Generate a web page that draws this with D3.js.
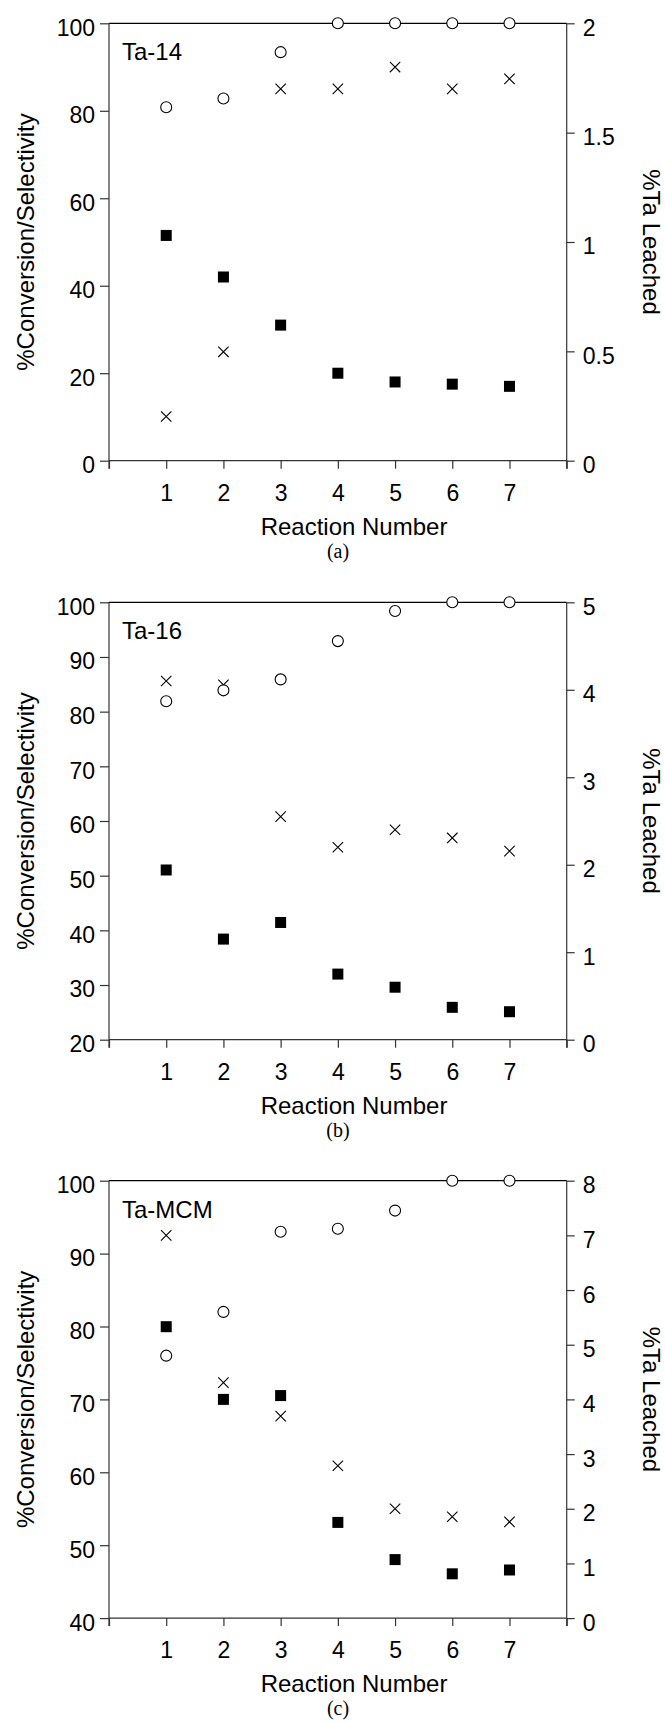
<!DOCTYPE html>
<html>
<head>
<meta charset="utf-8">
<script src="https://cdn.jsdelivr.net/npm/d3@7"></script>
<style>
  html, body { margin: 0; padding: 0; background: #fff; }
  svg { display: block; }
  text { font-family: Arial, "Liberation Sans", Helvetica, sans-serif; fill: #000; }
</style>
</head>
<body>
<svg id="chart"></svg>
<script>
const width = 665, height = 1723;

// x categories
const reactions = [1, 2, 3, 4, 5, 6, 7];
const panelNames = ['Ta-14', 'Ta-16', 'Ta-MCM'];
const captions = ['(a)', '(b)', '(c)'];

// left axis (%Conversion/Selectivity) ranges + ticks
const leftDomains = [[0, 100], [20, 100], [40, 100]];
const leftTicks = [[0, 20, 40, 60, 80, 100], [20, 30, 40, 50, 60, 70, 80, 90, 100], [40, 50, 60, 70, 80, 90, 100]];
// right axis (%Ta Leached)
const rightDomains = [[0, 2], [0, 5], [0, 8]];
const rightTicks = [[0, 0.5, 1, 1.5, 2], [0, 1, 2, 3, 4, 5], [0, 1, 2, 3, 4, 5, 6, 7, 8]];

// open circles, left axis
const circlesA = [80.8, 82.8, 93.4, 100, 100, 100, 100];
const circlesB = [81.9, 83.9, 85.9, 92.9, 98.4, 100, 100];
const circlesC = [76.0, 82.0, 93.0, 93.4, 95.9, 100, 100];
// crosses, left axis
const crossesA = [10.1, 24.9, 85.0, 85.0, 90.0, 85.0, 87.3];
const crossesB = [85.6, 84.9, 60.8, 55.2, 58.4, 56.9, 54.5];
const crossesC = [92.5, 72.3, 67.7, 60.9, 55.0, 53.9, 53.2];
// filled squares, right axis (%Ta leached)
const squaresA = [1.03, 0.84, 0.62, 0.40, 0.36, 0.35, 0.34];
const squaresB = [1.94, 1.15, 1.34, 0.75, 0.60, 0.37, 0.32];
const squaresC = [5.33, 4.00, 4.07, 1.75, 1.07, 0.81, 0.88];

const circles = [circlesA, circlesB, circlesC];
const crosses = [crossesA, crossesB, crossesC];
const squares = [squaresA, squaresB, squaresC];

const panelTops = [23.3, 602.3, 1180.7];
const plotH = 437.4;
const marginLeft = 109, marginRight = 566.7;

const svg = d3.select('#chart')
  .attr('width', width)
  .attr('height', height)
  .attr('viewBox', [0, 0, width, height]);

const x = d3.scaleLinear().domain([0, 8]).range([marginLeft, marginRight]);

panelNames.forEach((name, p) => {
  const top = panelTops[p], bottom = top + plotH;
  const y = d3.scaleLinear().domain(leftDomains[p]).range([bottom, top]);
  const y2 = d3.scaleLinear().domain(rightDomains[p]).range([bottom, top]);
  const g = svg.append('g');

  // frame top line
  g.append('line').attr('x1', marginLeft).attr('x2', marginRight)
    .attr('y1', top).attr('y2', top).attr('stroke', '#000').attr('stroke-width', 1.2);

  // left axis
  const left = g.append('g')
    .attr('transform', `translate(${marginLeft},0)`)
    .call(d3.axisLeft(y).tickValues(leftTicks[p]).tickSize(9).tickPadding(5).tickFormat(d3.format('d')));
  // right axis
  const right = g.append('g')
    .attr('transform', `translate(${marginRight},0)`)
    .call(d3.axisRight(y2).tickValues(rightTicks[p]).tickSize(8).tickPadding(8).tickFormat((d) => String(d)));
  // bottom axis
  const bot = g.append('g')
    .attr('transform', `translate(0,${bottom})`)
    .call(d3.axisBottom(x).tickValues([0, ...reactions, 8]).tickSize(8).tickPadding(16)
      .tickFormat((d) => (d === 0 || d === 8) ? '' : d));

  [left, right, bot].forEach((a) => {
    a.select('.domain').attr('stroke', '#333').attr('stroke-width', 1.2);
    a.selectAll('.tick line').attr('stroke', '#333').attr('stroke-width', 1.2);
    a.selectAll('.tick text').style('font-size', '23px').attr('fill', '#000');
  });
  // cut domain end caps
  left.select('.domain').attr('d', `M0,${bottom + 8}V${top}`);
  right.select('.domain').attr('d', `M0,${bottom + 8}V${top}`);
  bot.select('.domain').attr('d', `M${marginLeft},0H${marginRight}`);
  left.selectAll('.tick text').attr('dy', '0.52em');
  right.selectAll('.tick text').attr('dy', '0.52em');

  // axis titles
  g.append('text')
    .attr('transform', `translate(34,${(top + bottom) / 2}) rotate(-90)`)
    .attr('text-anchor', 'middle').style('font-size', '24px')
    .text('%Conversion/Selectivity');
  g.append('text')
    .attr('transform', `translate(643,${(top + bottom) / 2}) rotate(90)`)
    .attr('text-anchor', 'middle').style('font-size', '24px')
    .text('%Ta Leached');
  g.append('text')
    .attr('x', 354).attr('y', bottom + 74)
    .attr('text-anchor', 'middle').style('font-size', '24px')
    .text('Reaction Number');
  g.append('text')
    .attr('x', 338).attr('y', bottom + 97)
    .attr('text-anchor', 'middle')
    .style('font-family', '"Liberation Serif", "Times New Roman", serif')
    .style('font-size', '20px')
    .text(captions[p]);

  // sample name
  g.append('text')
    .attr('x', 122).attr('y', top + 37)
    .style('font-size', '24px')
    .text(name);

  // crosses
  g.append('g').selectAll('path')
    .data(crosses[p])
    .join('path')
    .attr('d', (d, i) => {
      const cx = x(reactions[i]), cy = y(d), s = 5.2;
      return `M${cx - s},${cy - s}L${cx + s},${cy + s}M${cx - s},${cy + s}L${cx + s},${cy - s}`;
    })
    .attr('stroke', '#000').attr('stroke-width', 1.1).attr('fill', 'none');

  // squares (right axis)
  g.append('g').selectAll('rect')
    .data(squares[p])
    .join('rect')
    .attr('x', (d, i) => x(reactions[i]) - 5.5)
    .attr('y', (d) => y2(d) - 5.5)
    .attr('width', 11).attr('height', 11)
    .attr('fill', '#000');

  // open circles
  g.append('g').selectAll('circle')
    .data(circles[p])
    .join('circle')
    .attr('cx', (d, i) => x(reactions[i]))
    .attr('cy', (d) => y(d))
    .attr('r', 5.5)
    .attr('fill', '#fff').attr('stroke', '#000').attr('stroke-width', 1.1);
});
</script>
</body>
</html>
